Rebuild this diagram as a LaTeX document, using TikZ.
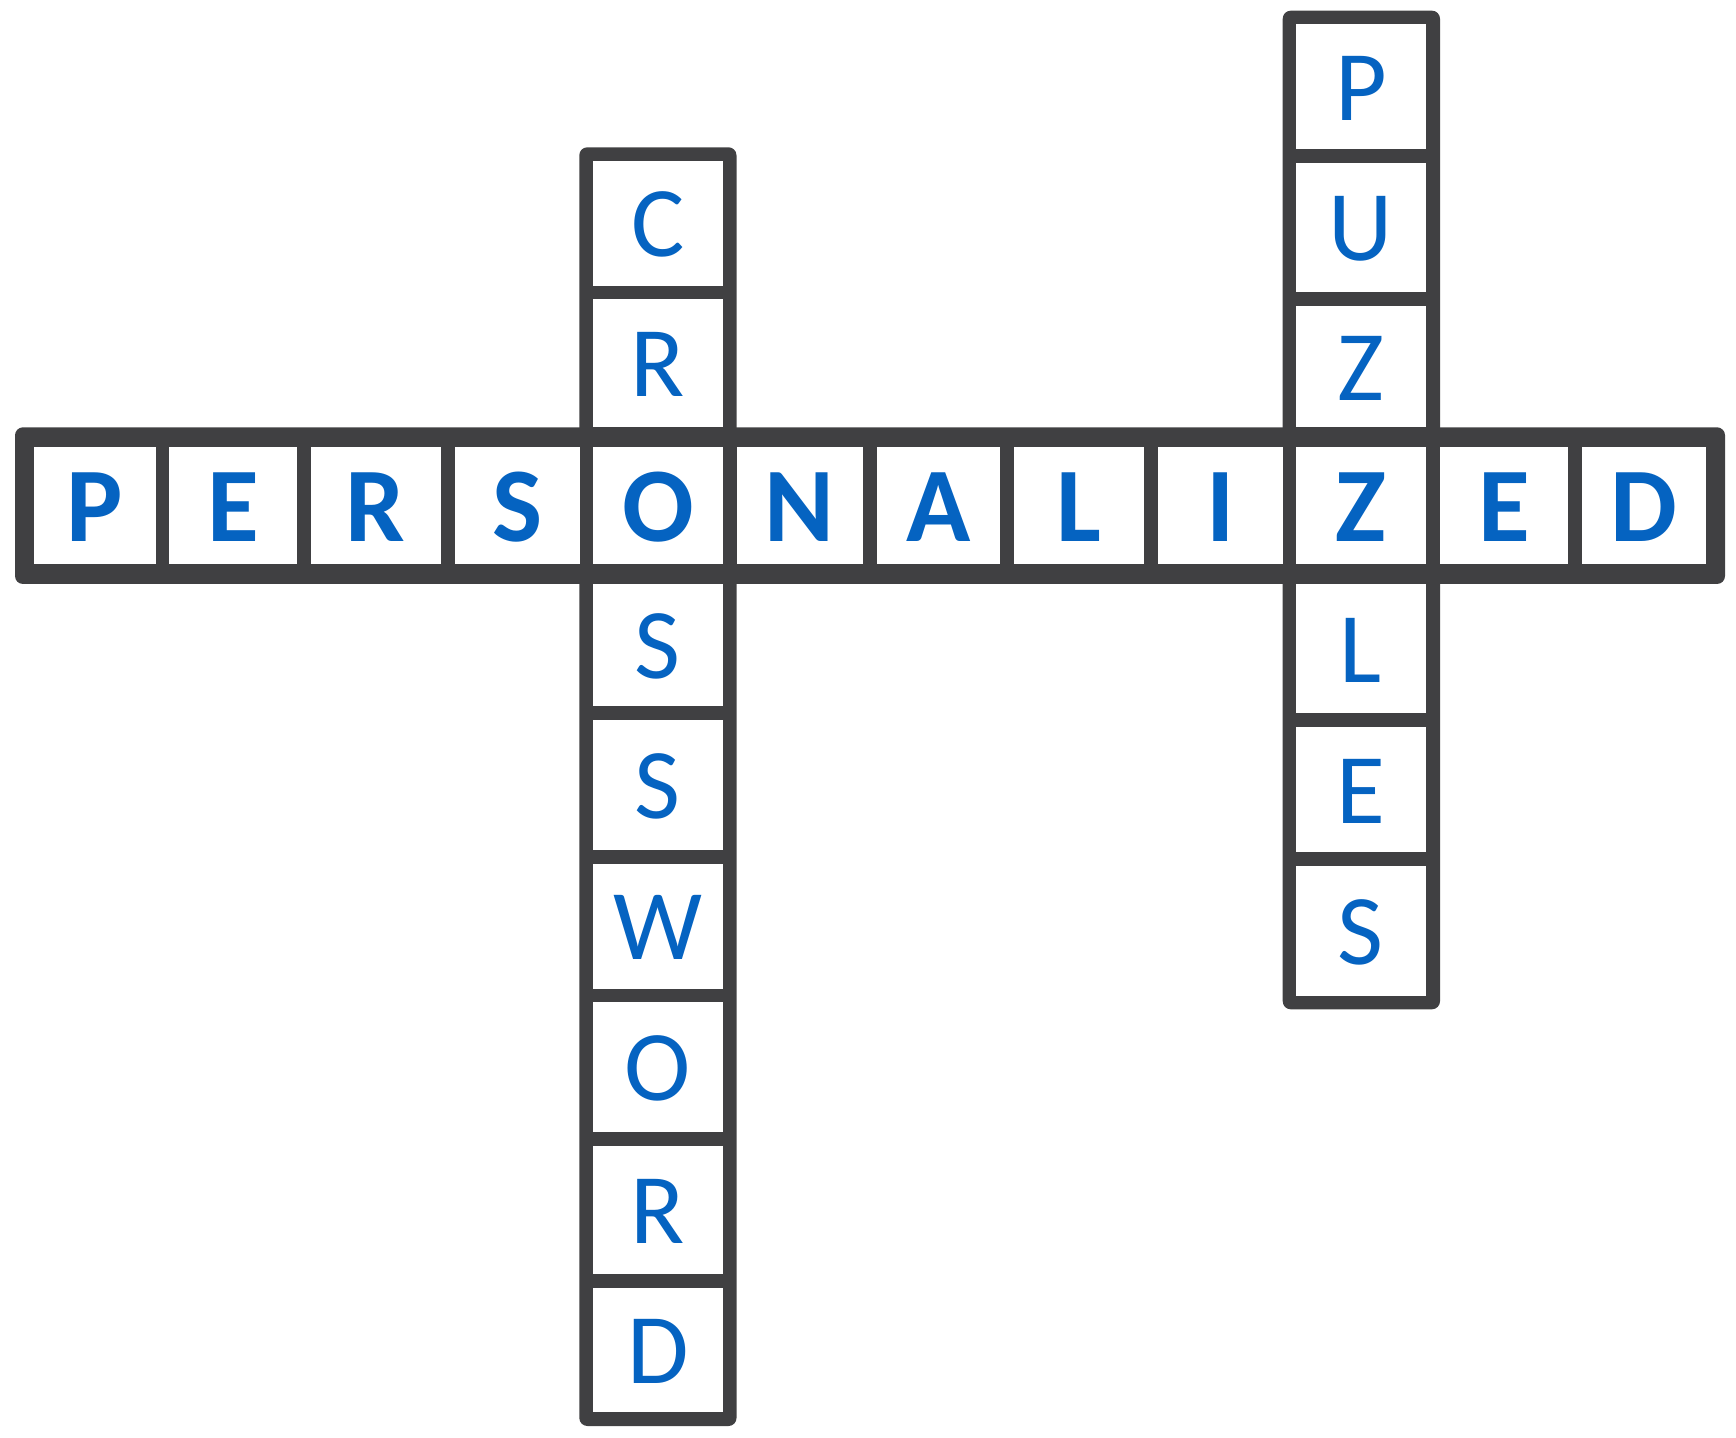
\documentclass[tikz,border=0pt]{standalone}
\usepackage{fontspec}
\setmainfont{Carlito}
\definecolor{frame}{RGB}{64,64,66}
\definecolor{letterblue}{RGB}{5,99,193}
\tikzset{
  framebox/.style={fill=frame, rounded corners=4pt},
  vletter/.style={text=letterblue, inner sep=0pt, font=\fontsize{50pt}{50pt}\selectfont},
  hletter/.style={text=letterblue, inner sep=0pt, font=\fontsize{53pt}{54pt}\selectfont\bfseries},
}
\newcommand{\gridcell}[7]{% style, name, x1, x2, y1, y2, letter
  \fill[white] (#3,#5) rectangle (#4,#6);
  \node[#1] (#2) at ({(#3+#4)/2},{(#5+#6)/2+1.5}) {#7};}
\begin{document}
\begin{tikzpicture}[x=0.5pt,y=-0.5pt]
\useasboundingbox (0,0) rectangle (1736,1438);
% frames
\path[framebox] (579.3,147.3) rectangle (736.5,1426);
\path[framebox] (1282.7,10.7) rectangle (1440,1009.3);
\path[framebox] (15,427.3) rectangle (1725,584);
% horizontal word
\gridcell{hletter}{h1}{34.4}{155.5}{446.7}{564.3}{P}
\gridcell{hletter}{h2}{169.4}{297.2}{446.7}{564.3}{E}
\gridcell{hletter}{h3}{311.1}{440.5}{446.7}{564.3}{R}
\gridcell{hletter}{h4}{454.6}{579.8}{446.7}{564.3}{S}
\gridcell{hletter}{h5}{593.2}{722.7}{446.7}{564.3}{O}
\gridcell{hletter}{h6}{736.7}{862.7}{446.7}{564.3}{N}
\gridcell{hletter}{h7}{877}{1000}{446.7}{564.3}{A}
\gridcell{hletter}{h8}{1014}{1144}{446.7}{564.3}{L}
\gridcell{hletter}{h9}{1157.7}{1282.7}{446.7}{564.3}{I}
\gridcell{hletter}{h10}{1296}{1425.7}{446.7}{564.3}{Z}
\gridcell{hletter}{h11}{1440}{1568.3}{446.7}{564.3}{E}
\gridcell{hletter}{h12}{1582.3}{1705.7}{446.7}{564.3}{D}
% CROSSWORD
\gridcell{vletter}{c1}{593.2}{722.7}{160.7}{285.7}{C}
\gridcell{vletter}{c2}{593.2}{722.7}{299.3}{427.3}{R}
\gridcell{vletter}{c4}{593.2}{722.7}{584}{706}{S}
\gridcell{vletter}{c5}{593.2}{722.7}{720}{850}{S}
\gridcell{vletter}{c6}{593.2}{722.7}{864}{988.7}{W}
\gridcell{vletter}{c7}{593.2}{722.7}{1002.3}{1132.3}{O}
\gridcell{vletter}{c8}{593.2}{722.7}{1146}{1274.3}{R}
\gridcell{vletter}{c9}{593.2}{722.7}{1288.3}{1411.7}{D}
% PUZZLES
\gridcell{vletter}{p1}{1296}{1425.7}{24.3}{149.3}{P}
\gridcell{vletter}{p2}{1296}{1425.7}{162.7}{292.3}{U}
\gridcell{vletter}{p3}{1296}{1425.7}{306}{427.3}{Z}
\gridcell{vletter}{p5}{1296}{1425.7}{584}{713.3}{L}
\gridcell{vletter}{p6}{1296}{1425.7}{727.3}{852.3}{E}
\gridcell{vletter}{p7}{1296}{1425.7}{865.7}{995.7}{S}
\end{tikzpicture}
\end{document}
